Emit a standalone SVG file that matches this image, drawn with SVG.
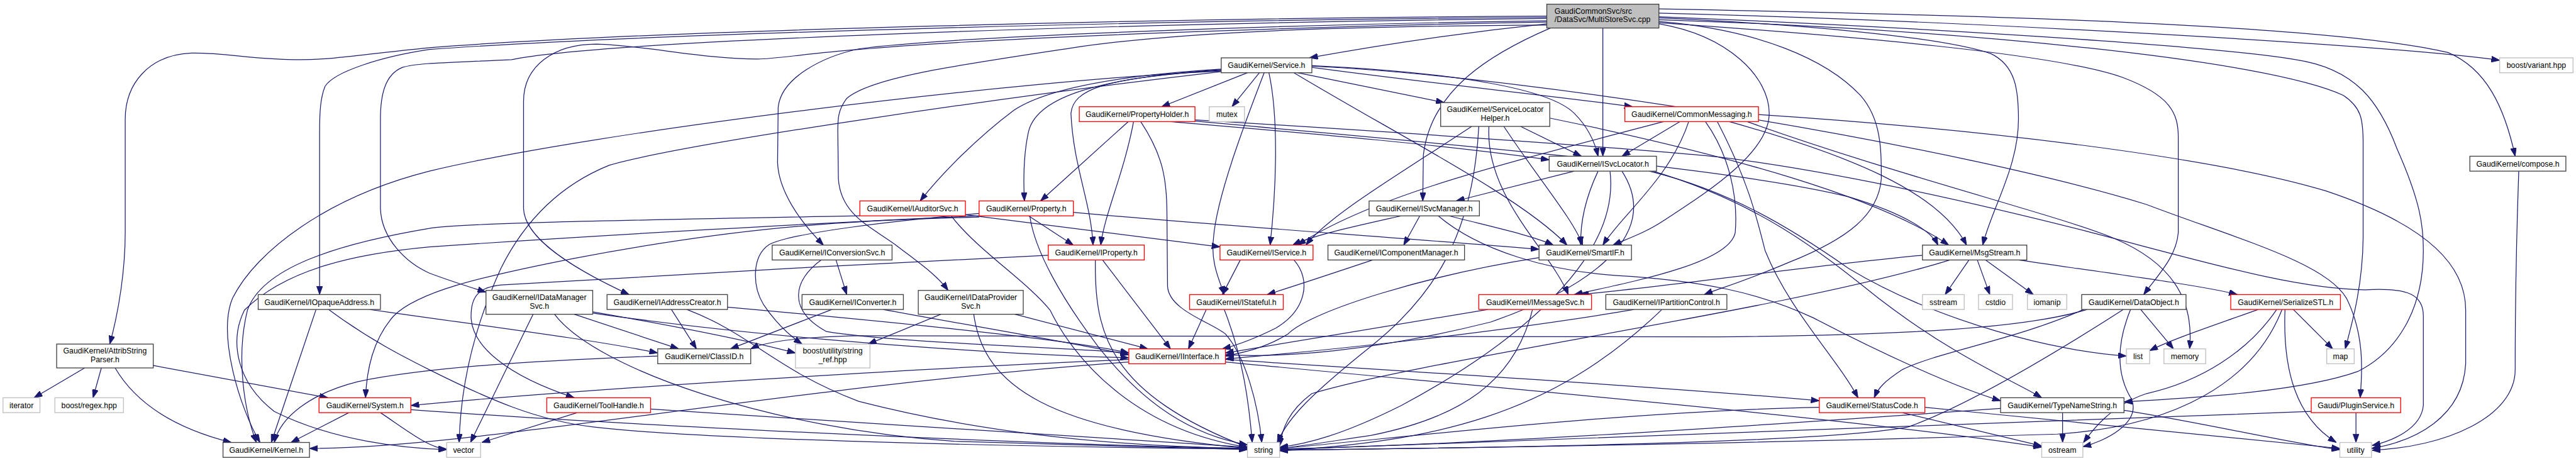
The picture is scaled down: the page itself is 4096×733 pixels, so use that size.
<svg xmlns="http://www.w3.org/2000/svg" width="4096" height="733" viewBox="0 0 4096 733">
<style>
.n rect{fill:#fff;stroke:#404040;stroke-width:1.4}
.r rect{stroke:#ff0000}
.g rect{stroke:#bfbfbf}
.root rect{fill:#bfbfbf}
text{font-family:"Liberation Sans",Arial,sans-serif;font-size:13px;fill:#000;text-anchor:middle}
#edges path{fill:none;stroke:#191970;stroke-width:1.3;marker-end:url(#a)}
</style>
<defs>
<marker id="a" viewBox="0 0 14 10" refX="14" refY="5" markerWidth="14" markerHeight="10" orient="auto" markerUnits="userSpaceOnUse"><path d="M0,0 L14,5 L0,10 z" fill="#191970" stroke="#191970" stroke-width="1"/></marker>
</defs>
<rect width="4096" height="733" fill="#fff"/>
<g transform="scale(0.948148)">
<g id="edges">
<path d="M2594 40 C2450 55 2300 78 2196 97"/>
<path d="M2594 27 C2000 30 1100 50 720 80 C600 92 560 100 505 100 C420 100 380 88 321 89 C250 92 210 140 210 200 L210 390 C210 450 200 520 184 577"/>
<path d="M2594 29 C2000 33 1100 55 720 83 C640 95 560 120 545 145 C537 165 536 190 536 220 L536 494"/>
<path d="M2594 31 C1800 40 1000 70 858 100 C760 105 700 105 675 113 C645 125 638 160 638 200 L638 350 C640 400 680 440 720 458 C760 473 790 482 815 490"/>
<path d="M2594 37 C2300 42 1700 60 1440 83 C1350 90 1300 99 1271 99 C1180 99 1080 76 1000 74 C930 74 878 110 878 170 L878 350 C880 400 960 450 1055 494"/>
<path d="M2594 35 C2200 40 1600 60 1440 82 C1380 95 1310 130 1305 180 L1304 273 C1306 320 1340 370 1381 411"/>
<path d="M2594 42 C2300 44 2000 50 1800 80 C1600 110 1460 130 1420 165 C1405 185 1405 200 1405 220 L1406 300 C1410 360 1460 380 1501 410 C1540 440 1570 460 1590 487"/>
<path d="M2600 47 C2500 90 2400 150 2387 260 L2386 337"/>
<path d="M2688 47 L2688 262"/>
<path d="M2782 40 C2900 60 2967 130 2967 190 C2967 260 2850 330 2790 370 C2760 390 2730 400 2705 411"/>
<path d="M2782 30 C3000 40 3250 60 3339 90 C3380 110 3385 150 3385 200 C3385 280 3340 350 3325 411"/>
<path d="M2782 36 C2950 50 3064 100 3120 160 C3155 200 3155 250 3155 300 C3150 360 3100 400 3000 440 C2930 470 2880 485 2858 494"/>
<path d="M2782 38 C3100 60 3450 90 3560 130 C3640 160 3653 190 3653 230 L3653 390 C3650 430 3620 460 3595 494"/>
<path d="M2782 28 C3200 45 3700 75 3850 100 C3950 115 3990 170 4020 250 C4060 340 4064 380 4064 420 C4064 520 4020 590 3954 623 C3850 660 3650 668 3562 674"/>
<path d="M2782 33 C3300 50 3800 100 3930 160 C3960 180 3963 200 3963 240 L3963 400 C3962 480 3945 540 3933 585"/>
<path d="M2782 22 C3300 35 4000 75 4192 101"/>
<path d="M2782 15 C3300 25 3900 40 4105 88 C4170 115 4200 180 4218 262"/>
<path d="M2092 122 L1948 179"/>
<path d="M2112 122 L2066 179"/>
<path d="M2176 122 L2422 172"/>
<path d="M2200 113 C2400 140 2600 160 2738 179"/>
<path d="M2200 110 C2450 122 2600 150 2640 190 C2665 215 2675 240 2680 262"/>
<path d="M2048 116 C1900 125 1760 145 1700 185 C1640 230 1580 290 1543 337"/>
<path d="M2048 117 C1850 130 1740 160 1725 220 C1716 260 1716 300 1718 337"/>
<path d="M2048 118 C1850 130 1800 150 1796 190 C1800 280 1830 340 1833 411"/>
<path d="M2120 122 C2090 200 2040 330 2035 400 C2030 440 2045 470 2053 494"/>
<path d="M2128 122 C2145 200 2140 320 2130 411"/>
<path d="M2170 122 C2350 230 2550 330 2628 411"/>
<path d="M2048 119 C1700 135 1000 220 720 287 C550 330 430 420 390 500 C365 560 400 680 436 742"/>
<path d="M2048 120 C1700 160 1150 240 1022 277 C940 310 880 370 840 450 C790 560 772 660 770 742"/>
<path d="M2200 111 C2600 130 3300 250 3600 343 C3750 400 3900 440 3935 500 C3965 560 3962 620 3958 667"/>
<path d="M1892 204 L1745 337"/>
<path d="M1901 204 C1885 290 1852 360 1846 411"/>
<path d="M1913 204 C1950 260 1957 300 1957 360 L1958 480 C1960 520 2030 540 2055 560 C2090 600 2110 680 2116 742"/>
<path d="M1962 204 C2150 220 2400 240 2598 268"/>
<path d="M2004 201 C2400 225 2750 250 2880 263 C3100 290 3350 350 3500 388 C3700 440 3850 485 3967 486 C4040 482 4064 495 4064 530 L4064 680 C4060 720 4010 740 3978 747"/>
<path d="M2004 203 C2400 240 2900 280 3100 330 C3200 360 3240 390 3250 411"/>
<path d="M2817 204 L2720 262"/>
<path d="M2790 204 C2500 280 2300 330 2176 411"/>
<path d="M2832 204 C2800 300 2720 360 2688 411"/>
<path d="M2900 204 C3100 260 3250 320 3298 411"/>
<path d="M2860 204 C2900 260 2915 330 2910 390 C2900 440 2750 470 2640 494"/>
<path d="M2930 204 C3200 300 3450 360 3546 400 C3640 440 3680 500 3672 585"/>
<path d="M2949 192 C3300 215 3700 260 3900 320 C4080 380 4135 450 4135 520 L4135 610 C4130 700 4050 740 3977 752"/>
<path d="M2880 204 C2930 300 2945 360 2960 420 C3000 520 3080 600 3116 667"/>
<path d="M2550 212 L2652 262"/>
<path d="M2468 212 C2350 290 2230 360 2190 411"/>
<path d="M2522 212 C2580 300 2640 370 2654 411"/>
<path d="M2599 198 C2900 260 3150 330 3268 411"/>
<path d="M2497 212 C2490 330 2600 420 2630 494"/>
<path d="M2480 212 C2470 400 2400 500 2300 580 C2200 660 2160 700 2142 742"/>
<path d="M2640 287 L2442 337"/>
<path d="M2680 287 C2655 340 2650 380 2651 411"/>
<path d="M2720 287 C2780 380 2700 470 2500 540 C2300 590 2150 600 2055 595"/>
<path d="M2766 287 C2900 320 3000 380 3100 450 C3250 540 3450 590 3566 597"/>
<path d="M2772 287 C2950 340 3050 420 3150 500 C3280 600 3380 640 3424 667"/>
<path d="M2700 287 C2720 450 2500 600 2350 680 C2250 730 2190 745 2146 750"/>
<path d="M2350 362 C2270 380 2200 395 2168 411"/>
<path d="M2381 362 L2354 411"/>
<path d="M2430 362 C2500 380 2570 395 2605 411"/>
<path d="M2412 362 C2480 420 2600 455 2711 462 C2850 470 2950 490 3041 533 C3150 590 3280 650 3355 672"/>
<path d="M1619 360 L2046 414"/>
<path d="M1595 362 C1640 420 1720 470 1761 520 C1800 600 1900 720 2092 750"/>
<path d="M1442 362 C1000 370 760 375 720 383 C560 410 440 450 415 520 C395 600 410 690 430 742"/>
<path d="M1725 362 L1800 411"/>
<path d="M1727 362 C1735 420 1780 500 1843 583 C1920 680 2000 730 2092 746"/>
<path d="M1642 364 C1400 370 1229 383 964 433 C800 465 700 490 660 530 C625 570 615 620 613 667"/>
<path d="M1642 358 C1500 370 1330 390 1290 410 C1260 430 1262 480 1280 510 C1300 540 1320 560 1345 577"/>
<path d="M1800 356 C2000 375 2300 395 2581 418"/>
<path d="M1642 362 C1400 372 1000 395 720 414 C600 425 480 450 410 520 C385 570 395 640 460 690 C560 740 680 752 749 754"/>
<path d="M1402 436 L1420 494"/>
<path d="M1377 436 C1330 470 1320 520 1386 556 C1500 575 1800 583 1893 592"/>
<path d="M1849 436 L1963 585"/>
<path d="M1837 436 C1835 560 1860 660 2092 750"/>
<path d="M1758 428 C1500 440 950 470 840 478 C800 482 790 500 790 530 C790 580 850 630 963 667"/>
<path d="M2080 436 L2050 494"/>
<path d="M2170 436 C2200 470 2190 520 2140 550 C2100 570 2070 580 2050 585"/>
<path d="M2023 519 L1993 585"/>
<path d="M2053 519 C2085 600 2095 680 2100 742"/>
<path d="M2302 436 C2230 460 2170 480 2125 494"/>
<path d="M2581 432 C2400 460 2200 520 2160 560 C2120 585 2080 592 2055 597"/>
<path d="M3302 436 L3262 494"/>
<path d="M3316 436 L3337 494"/>
<path d="M3330 436 L3410 494"/>
<path d="M3385 436 C3550 460 3700 480 3752 494"/>
<path d="M3224 428 C3000 450 2800 480 2650 494"/>
<path d="M3270 436 C3000 520 2400 600 2200 660 C2160 690 2150 720 2146 748"/>
<path d="M3500 519 C3400 550 3200 562 2880 565 L1440 563 C1330 565 1280 575 1259 585"/>
<path d="M3494 519 C3380 570 3250 590 3190 620 C3160 640 3150 650 3143 667"/>
<path d="M3590 519 L3645 585"/>
<path d="M3573 519 C3548 580 3550 630 3575 670 C3590 710 3530 740 3493 749"/>
<path d="M3561 519 C3450 590 3300 680 3200 716 C3050 745 2400 752 2146 755"/>
<path d="M3787 519 C3700 550 3640 570 3605 588"/>
<path d="M3846 519 L3912 585"/>
<path d="M3832 519 C3828 620 3850 700 3918 742"/>
<path d="M3818 519 C3770 590 3690 640 3600 660 C3540 680 3510 720 3494 742"/>
<path d="M3827 519 C3780 640 3650 715 3450 728 C2900 745 2400 752 2146 755"/>
<path d="M530 519 L455 742"/>
<path d="M620 519 C800 545 1000 570 1103 592"/>
<path d="M551 519 C620 570 680 600 720 620 C820 670 900 705 995 716 C1200 740 1800 750 2092 753"/>
<path d="M894 527 L789 742"/>
<path d="M963 527 L1138 585"/>
<path d="M994 523 C1150 550 1250 570 1334 592"/>
<path d="M994 525 C1300 570 1700 595 1893 600"/>
<path d="M930 527 C1000 620 1300 720 1600 740 C1900 750 2050 752 2092 754"/>
<path d="M1126 519 L1168 585"/>
<path d="M1220 515 C1500 540 1800 570 1893 592"/>
<path d="M1152 519 C1260 560 1300 620 1440 673 C1700 740 1950 750 2092 752"/>
<path d="M1395 519 L1225 585"/>
<path d="M1481 519 C1650 550 1800 575 1893 595"/>
<path d="M1578 527 L1456 577"/>
<path d="M1702 527 L1925 585"/>
<path d="M1633 527 C1650 650 1760 720 2092 752"/>
<path d="M2495 519 C2300 550 2150 575 2055 592"/>
<path d="M2570 519 C2540 640 2450 700 2300 730 C2200 745 2170 750 2146 752"/>
<path d="M2740 519 C2500 560 2200 590 2055 602"/>
<path d="M2787 519 C2600 700 2400 740 2146 756"/>
<path d="M142 617 L57 667"/>
<path d="M170 617 L156 667"/>
<path d="M257 613 L550 667"/>
<path d="M193 617 C230 680 300 720 388 742"/>
<path d="M1103 597 C900 605 720 615 600 640 C520 660 470 700 460 742"/>
<path d="M1893 603 C1600 615 1000 650 689 680"/>
<path d="M1893 607 C1300 650 800 752 519 752"/>
<path d="M2055 603 C2400 625 2800 650 3051 672"/>
<path d="M2055 607 C2500 650 3100 700 3424 750"/>
<path d="M585 692 L488 742"/>
<path d="M638 692 C680 720 720 752 749 753"/>
<path d="M689 687 C1000 710 1700 745 2092 752"/>
<path d="M968 692 L808 742"/>
<path d="M1091 686 C1400 705 1900 740 2092 750"/>
<path d="M3190 692 L3424 748"/>
<path d="M3228 683 C3500 710 3800 740 3924 752"/>
<path d="M3051 683 C2700 690 2300 740 2146 752"/>
<path d="M3459 692 L3459 742"/>
<path d="M3355 685 C3000 710 2500 745 2146 753"/>
<path d="M3562 688 C3700 710 3850 745 3924 754"/>
<path d="M3951 692 L3951 742"/>
<path d="M3876 690 C3500 700 2600 740 2146 754"/>
<path d="M4224 287 C4220 400 4218 500 4218 620 C4218 700 4100 750 3978 755"/>
</g>
<g id="root" class="n root"><rect x="2594" y="7" width="188" height="40"/><text x="2607" y="23" style="text-anchor:start">GaudiCommonSvc/src</text><text x="2607" y="37" style="text-anchor:start">/DataSvc/MultiStoreSvc.cpp</text></g>
<g id="service" class="n"><rect x="2048" y="97" width="152" height="25"/><text x="2124" y="114">GaudiKernel/Service.h</text></g>
<g id="propertyholder" class="n r"><rect x="1810" y="179" width="194" height="25"/><text x="1907" y="196">GaudiKernel/PropertyHolder.h</text></g>
<g id="mutex" class="n g"><rect x="2028" y="179" width="59" height="25"/><text x="2057.5" y="196">mutex</text></g>
<g id="servicelocatorhelper" class="n"><rect x="2416" y="172" width="183" height="40"/><text x="2507.5" y="188">GaudiKernel/ServiceLocator</text><text x="2507.5" y="203">Helper.h</text></g>
<g id="commonmessaging" class="n r"><rect x="2725" y="179" width="224" height="25"/><text x="2837" y="196">GaudiKernel/CommonMessaging.h</text></g>
<g id="isvclocator" class="n"><rect x="2598" y="262" width="180" height="25"/><text x="2688" y="279">GaudiKernel/ISvcLocator.h</text></g>
<g id="compose" class="n"><rect x="4142" y="262" width="161" height="25"/><text x="4222.5" y="279">GaudiKernel/compose.h</text></g>
<g id="variant" class="n g"><rect x="4192" y="97" width="123" height="25"/><text x="4253.5" y="114">boost/variant.hpp</text></g>
<g id="iauditorsvc" class="n r"><rect x="1442" y="337" width="177" height="25"/><text x="1530.5" y="354">GaudiKernel/IAuditorSvc.h</text></g>
<g id="property" class="n r"><rect x="1642" y="337" width="158" height="25"/><text x="1721" y="354">GaudiKernel/Property.h</text></g>
<g id="isvcmanager" class="n"><rect x="2296" y="337" width="185" height="25"/><text x="2388.5" y="354">GaudiKernel/ISvcManager.h</text></g>
<g id="iconversionsvc" class="n"><rect x="1295" y="411" width="201" height="25"/><text x="1395.5" y="428">GaudiKernel/IConversionSvc.h</text></g>
<g id="iproperty" class="n r"><rect x="1758" y="411" width="161" height="25"/><text x="1838.5" y="428">GaudiKernel/IProperty.h</text></g>
<g id="iservice" class="n r"><rect x="2046" y="411" width="156" height="25"/><text x="2124" y="428">GaudiKernel/IService.h</text></g>
<g id="icomponentmanager" class="n"><rect x="2227" y="411" width="229" height="25"/><text x="2341.5" y="428">GaudiKernel/IComponentManager.h</text></g>
<g id="smartif" class="n"><rect x="2581" y="411" width="155" height="25"/><text x="2658.5" y="428">GaudiKernel/SmartIF.h</text></g>
<g id="msgstream" class="n"><rect x="3224" y="411" width="175" height="25"/><text x="3311.5" y="428">GaudiKernel/MsgStream.h</text></g>
<g id="iopaqueaddress" class="n"><rect x="433" y="494" width="205" height="25"/><text x="535.5" y="511">GaudiKernel/IOpaqueAddress.h</text></g>
<g id="idatamanagersvc" class="n"><rect x="815" y="487" width="179" height="40"/><text x="904.5" y="503">GaudiKernel/IDataManager</text><text x="904.5" y="518">Svc.h</text></g>
<g id="iaddresscreator" class="n"><rect x="1018" y="494" width="202" height="25"/><text x="1119" y="511">GaudiKernel/IAddressCreator.h</text></g>
<g id="iconverter" class="n"><rect x="1345" y="494" width="170" height="25"/><text x="1430" y="511">GaudiKernel/IConverter.h</text></g>
<g id="idataprovidersvc" class="n"><rect x="1540" y="487" width="176" height="40"/><text x="1628" y="503">GaudiKernel/IDataProvider</text><text x="1628" y="518">Svc.h</text></g>
<g id="istateful" class="n r"><rect x="1995" y="494" width="157" height="25"/><text x="2073.5" y="511">GaudiKernel/IStateful.h</text></g>
<g id="imessagesvc" class="n r"><rect x="2480" y="494" width="189" height="25"/><text x="2574.5" y="511">GaudiKernel/IMessageSvc.h</text></g>
<g id="ipartitioncontrol" class="n"><rect x="2693" y="494" width="203" height="25"/><text x="2794.5" y="511">GaudiKernel/IPartitionControl.h</text></g>
<g id="sstream" class="n g"><rect x="3224" y="494" width="70" height="25"/><text x="3259" y="511">sstream</text></g>
<g id="cstdio" class="n g"><rect x="3318" y="494" width="57" height="25"/><text x="3346.5" y="511">cstdio</text></g>
<g id="iomanip" class="n g"><rect x="3400" y="494" width="66" height="25"/><text x="3433" y="511">iomanip</text></g>
<g id="dataobject" class="n"><rect x="3491" y="494" width="175" height="25"/><text x="3578.5" y="511">GaudiKernel/DataObject.h</text></g>
<g id="serializestl" class="n r"><rect x="3741" y="494" width="184" height="25"/><text x="3833" y="511">GaudiKernel/SerializeSTL.h</text></g>
<g id="attribstringparser" class="n"><rect x="95" y="577" width="162" height="40"/><text x="176" y="593">GaudiKernel/AttribString</text><text x="176" y="608">Parser.h</text></g>
<g id="classid" class="n"><rect x="1103" y="585" width="156" height="25"/><text x="1181" y="602">GaudiKernel/ClassID.h</text></g>
<g id="string_ref" class="n g"><rect x="1334" y="577" width="125" height="40"/><text x="1396.5" y="593">boost/utility/string</text><text x="1396.5" y="608">_ref.hpp</text></g>
<g id="iinterface" class="n r"><rect x="1893" y="585" width="162" height="25"/><text x="1974" y="602">GaudiKernel/IInterface.h</text></g>
<g id="list" class="n g"><rect x="3566" y="585" width="39" height="25"/><text x="3585.5" y="602">list</text></g>
<g id="memory" class="n g"><rect x="3629" y="585" width="70" height="25"/><text x="3664" y="602">memory</text></g>
<g id="map" class="n g"><rect x="3902" y="585" width="46" height="25"/><text x="3925" y="602">map</text></g>
<g id="iterator" class="n g"><rect x="5" y="667" width="62" height="25"/><text x="36" y="684">iterator</text></g>
<g id="regex" class="n g"><rect x="92" y="667" width="115" height="25"/><text x="149.5" y="684">boost/regex.hpp</text></g>
<g id="system" class="n r"><rect x="535" y="667" width="154" height="25"/><text x="612" y="684">GaudiKernel/System.h</text></g>
<g id="toolhandle" class="n r"><rect x="917" y="667" width="174" height="25"/><text x="1004" y="684">GaudiKernel/ToolHandle.h</text></g>
<g id="statuscode" class="n r"><rect x="3051" y="667" width="177" height="25"/><text x="3139.5" y="684">GaudiKernel/StatusCode.h</text></g>
<g id="typenamestring" class="n"><rect x="3355" y="667" width="207" height="25"/><text x="3458.5" y="684">GaudiKernel/TypeNameString.h</text></g>
<g id="pluginservice" class="n r"><rect x="3876" y="667" width="150" height="25"/><text x="3951" y="684">Gaudi/PluginService.h</text></g>
<g id="kernel" class="n"><rect x="374" y="742" width="145" height="25"/><text x="446.5" y="759">GaudiKernel/Kernel.h</text></g>
<g id="vector" class="n g"><rect x="749" y="742" width="57" height="25"/><text x="777.5" y="759">vector</text></g>
<g id="string" class="n g"><rect x="2092" y="742" width="54" height="25"/><text x="2119" y="759">string</text></g>
<g id="ostream" class="n g"><rect x="3424" y="742" width="69" height="25"/><text x="3458.5" y="759">ostream</text></g>
<g id="utility" class="n g"><rect x="3924" y="742" width="53" height="25"/><text x="3950.5" y="759">utility</text></g>
</g>
</svg>
